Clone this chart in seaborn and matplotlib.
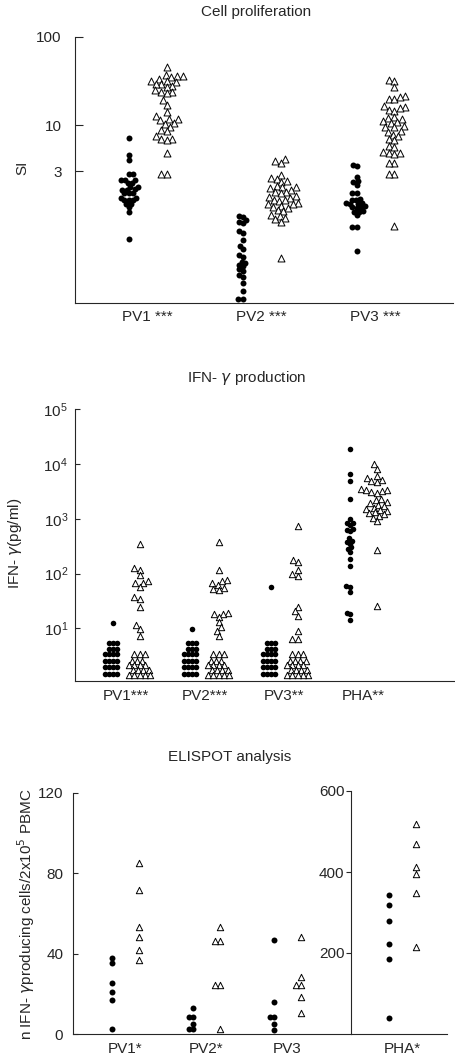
import pandas as pd
import matplotlib
matplotlib.use("Agg")
import matplotlib.pyplot as plt
import seaborn as sns
from matplotlib.ticker import NullLocator

# Cell proliferation (SI), filled circles / open triangles
prolif_labels = ["PV1 ***", "PV2 ***", "PV3 ***"]
prolif_circle = [
    [7.2, 4.6, 4.0, 2.8, 2.8, 2.4, 2.4, 2.35, 2.2, 2.2, 2.0, 2.0, 1.86, 1.85, 1.85,
     1.7, 1.7, 1.68, 1.5, 1.5, 1.42, 1.4, 1.4, 1.27, 1.26, 1.16, 1.02, 0.51],
    [0.93, 0.9, 0.83, 0.8, 0.78, 0.62, 0.6, 0.5, 0.42, 0.39, 0.33, 0.32, 0.28, 0.27,
     0.26, 0.25, 0.23, 0.22, 0.2, 0.19, 0.16, 0.13, 0.105, 0.105],
    [3.5, 3.4, 2.6, 2.3, 2.25, 2.1, 1.7, 1.68, 1.45, 1.42, 1.4, 1.3, 1.3, 1.28, 1.27,
     1.2, 1.18, 1.17, 1.15, 1.05, 1.03, 1.02, 0.95, 0.7, 0.69, 0.37],
]
prolif_triangle = [
    [46, 37, 36, 36, 35, 33, 32, 32, 31, 29, 29, 28, 27, 25, 24, 24, 23, 19, 17, 14,
     12.6, 11.8, 11.6, 11.4, 10.6, 10.4, 9.6, 8.7, 8.5, 7.5, 7, 6.9, 6.8, 4.8, 2.8, 2.8],
    [4.1, 3.9, 3.7, 2.7, 2.5, 2.45, 2.3, 2.25, 2.05, 2.0, 1.95, 1.9, 1.85, 1.75, 1.72,
     1.7, 1.55, 1.52, 1.5, 1.42, 1.4, 1.38, 1.3, 1.28, 1.25, 1.2, 1.17, 1.15, 1.07,
     1.05, 0.95, 0.93, 0.87, 0.85, 0.8, 0.31],
    [32.5, 32, 27, 21.5, 21, 20, 19.5, 16.5, 16, 15.5, 15, 14.5, 12.2, 12, 11.6, 11,
     10.8, 10.6, 9.8, 9.6, 9.4, 8.6, 8.4, 7.8, 7.6, 7, 6.8, 5.8, 5.6, 4.9, 4.8, 4.8,
     4.7, 3.7, 3.7, 2.8, 2.8, 0.72],
]

# IFN-gamma production (pg/ml)
ifn_labels = ["PV1***", "PV2***", "PV3**", "PHA**"]
ifn_circle = [
    [12.3, 5.5, 5.5, 5.5, 4.3, 4.3, 4.3, 3.4, 3.4, 3.4, 3.4, 2.5, 2.5, 2.5, 2.5,
     2.0, 2.0, 2.0, 2.0, 1.5, 1.5, 1.5, 1.5],
    [9.8, 5.5, 5.5, 5.5, 4.3, 4.3, 4.3, 3.4, 3.4, 3.4, 3.4, 2.5, 2.5, 2.5, 2.5,
     2.0, 2.0, 2.0, 2.0, 1.5, 1.5, 1.5, 1.5],
    [57, 5.5, 5.5, 5.5, 4.3, 4.3, 4.3, 3.4, 3.4, 3.4, 3.4, 2.5, 2.5, 2.5, 2.5,
     2.0, 2.0, 2.0, 2.0, 1.5, 1.5, 1.5, 1.5],
    [19000, 6600, 4900, 2300, 1000, 850, 820, 780, 640, 620, 590, 440, 400, 370,
     350, 300, 280, 250, 185, 135, 60, 58, 46, 19, 18, 14],
]
ifn_triangle = [
    [340, 124, 118, 94, 72, 68, 66, 58, 38, 35, 24.6, 11.5, 9.8, 7.4, 3.4, 3.4, 3.4,
     2.6, 2.6, 2.6, 2.15, 2.15, 2.15, 2.15, 1.75, 1.75, 1.75, 1.75, 1.42, 1.42, 1.42,
     1.42, 1.42],
    [378, 115, 76, 72, 66, 62, 54, 52, 50, 19, 18.5, 18, 16.3, 12.9, 10.4, 8.9, 7.2,
     3.4, 3.4, 3.4, 2.6, 2.6, 2.6, 2.15, 2.15, 2.15, 2.15, 1.75, 1.75, 1.75, 1.75,
     1.42, 1.42, 1.42, 1.42, 1.42],
    [730, 180, 160, 115, 100, 92, 24.7, 20.6, 17, 8.9, 6.5, 6.3, 3.4, 3.4, 3.4,
     2.6, 2.6, 2.6, 2.6, 2.15, 2.15, 2.15, 2.15, 1.75, 1.75, 1.75, 1.75, 1.42, 1.42,
     1.42, 1.42, 1.42],
    [10000, 8200, 6000, 5600, 5000, 4800, 4600, 3500, 3400, 3300, 3200, 3100, 3000,
     2300, 2200, 2000, 1900, 1800, 1700, 1600, 1500, 1450, 1400, 1300, 1250, 1200,
     1100, 1050, 900, 270, 26],
]

# ELISPOT (spots / 2x10^5 PBMC)
elispot_labels = ["PV1*", "PV2*", "PV3"]
elispot_circle = [
    [38, 35.5, 25.5, 21, 17, 2.6],
    [13, 8.5, 8.5, 5, 2.5, 2.5],
    [47, 16, 8.3, 8.3, 5, 1.8],
]
elispot_triangle = [
    [85, 71.5, 53.5, 48.5, 42, 36.7],
    [53.5, 46.5, 46.5, 24.3, 24.3, 2.6],
    [48.5, 28.5, 24.3, 24.3, 18.4, 10.6],
]
pha_label = ["PHA*"]
pha_circle = [[342, 319, 279, 221, 186, 38.6]]
pha_triangle = [[519, 470, 413, 394, 347, 214]]

sns.set_style("ticks")
plt.rcParams["font.family"] = ["Liberation Sans", "DejaVu Sans"]
plt.rcParams["font.size"] = 11
plt.rcParams["axes.linewidth"] = 0.8

W, H = 456, 1060
PACK = 0.66  # swarm laid out with smaller dots, then enlarged -> overlapping like the original
fig = plt.figure(figsize=(W / 100, H / 100), dpi=100)


def add_ax(left, top, right, bottom):
    return fig.add_axes([left / W, 1 - bottom / H, (right - left) / W, (bottom - top) / H])


def swarm(ax, labels, circles, triangles, sc, st, log=False):
    rows = []
    for i in range(len(labels)):
        rows += [(3 * i, v, "circle") for v in circles[i]]
        rows += [(3 * i + 1, v, "triangle") for v in triangles[i]]
    df = pd.DataFrame(rows, columns=["pos", "value", "kind"])
    if log:
        ax.set_yscale("log")
    sns.swarmplot(data=df[df.kind == "circle"], x="pos", y="value", native_scale=True,
                  orient="x", color="black", size=sc * PACK, linewidth=0, ax=ax,
                  warn_thresh=1)
    sns.swarmplot(data=df[df.kind == "triangle"], x="pos", y="value", native_scale=True,
                  orient="x", color="white", edgecolor="black", linewidth=0.7,
                  marker="^", size=st * PACK, ax=ax, warn_thresh=1)
    ax.set_xticks([3 * i + 0.5 for i in range(len(labels))], labels)
    ax.set_xlabel("")
    ax.set_ylabel("")
    ax.tick_params(axis="x", length=0, labelsize=11)
    sns.despine(ax=ax)


# panel 1
ax1 = add_ax(75, 37, 453, 303)
swarm(ax1, prolif_labels, prolif_circle, prolif_triangle, 4.3, 5.0, log=True)
ax1.set_ylim(0.095, 100)
ax1.set_xlim(-1.41, 8.54)
ax1.set_yticks([3, 10, 100], ["3", "10", "100"])
ax1.yaxis.set_minor_locator(NullLocator())
ax1.tick_params(axis="y", direction="in", length=6, width=0.8, pad=9.5, labelsize=11)
ax1.tick_params(axis="x", pad=5)
fig.text(256 / W, 1 - 12 / H, "Cell proliferation", ha="center", va="center", fontsize=11)
fig.text(22 / W, 1 - 168 / H, "SI", rotation=90, ha="center", va="center", fontsize=11)

# panel 2
ax2 = add_ax(75, 409, 455, 681)
swarm(ax2, ifn_labels, ifn_circle, ifn_triangle, 4.0, 4.6, log=True)
ax2.set_ylim(1.1, 1e5)
ax2.set_xlim(-1.45, 12.98)
ax2.set_yticks([1e1, 1e2, 1e3, 1e4, 1e5])
ax2.yaxis.set_minor_locator(NullLocator())
ax2.tick_params(axis="y", direction="in", length=3.6, width=0.8, pad=5, labelsize=11)
ax2.tick_params(axis="x", pad=6)
fig.text(247 / W, 1 - 378 / H, "IFN- $\\gamma$ production", ha="center", va="center", fontsize=11)
fig.text(15 / W, 1 - 543 / H, "IFN- $\\gamma$(pg/ml)", rotation=90, ha="center", va="center",
         fontsize=11)

# panel 3
ax3 = add_ax(73, 793, 351, 1034)
swarm(ax3, elispot_labels, elispot_circle, elispot_triangle, 4.3, 4.6)
ax3.set_ylim(0, 120)
ax3.set_xlim(-1.44, 8.85)
ax3.set_yticks([0, 40, 80, 120])
ax3.tick_params(axis="y", direction="in", length=3.6, width=0.8, pad=7, labelsize=11)
ax3.tick_params(axis="x", pad=6)

ax4 = add_ax(351, 791, 447, 1034)
swarm(ax4, pha_label, pha_circle, pha_triangle, 4.3, 4.6)
ax4.set_ylim(0, 600)
ax4.set_xlim(-1.41, 2.15)
ax4.set_yticks([200, 400, 600])
ax4.tick_params(axis="y", direction="out", length=3.6, width=0.8, pad=1, labelsize=11)
ax4.tick_params(axis="x", pad=6)
ax4.patch.set_alpha(0)

fig.text(230 / W, 1 - 757 / H, "ELISPOT analysis", ha="center", va="center", fontsize=11)
fig.text(26 / W, 1 - 1040 / H, "n IFN- $\\gamma$producing cells/2x10$^5$ PBMC", rotation=90,
         ha="center", va="bottom", fontsize=11)

# lay the swarms out once, then freeze positions and grow the dots to full size
fig.canvas.draw()
for ax in (ax1, ax2, ax3, ax4):
    for coll in ax.collections:
        if "draw" in coll.__dict__:
            del coll.draw
        coll.set_sizes(coll.get_sizes() / PACK ** 2)

fig.savefig("out.png", dpi=100)
